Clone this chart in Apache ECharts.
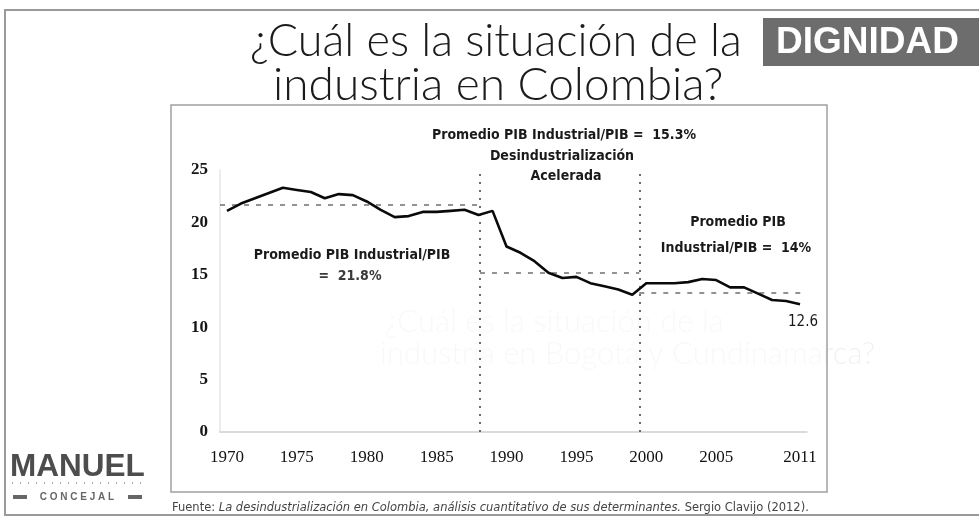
<!DOCTYPE html>
<html>
<head>
<meta charset="utf-8">
<script src="https://cdn.jsdelivr.net/npm/echarts@6/dist/echarts.min.js"></script>
<style>
html,body{margin:0;padding:0;background:#fff;}
#c{width:979px;height:523px;}
</style>
</head>
<body>
<div id="c"></div>
<script>
// ---- data ----
const years = [1970,1971,1972,1973,1974,1975,1976,1977,1978,1979,
               1980,1981,1982,1983,1984,1985,1986,1987,1988,1989,
               1990,1991,1992,1993,1994,1995,1996,1997,1998,1999,
               2000,2001,2002,2003,2004,2005,2006,2007,2008,2009,
               2010,2011];
const pibIndustrialShare = [21.1,21.8,22.3,22.8,23.3,23.1,22.9,22.3,22.7,22.6,
                            22.0,21.2,20.5,20.6,21.0,21.0,21.1,21.2,20.7,21.1,
                            17.7,17.1,16.3,15.2,14.7,14.8,14.2,13.9,13.6,13.1,
                            14.2,14.2,14.2,14.3,14.6,14.5,13.8,13.8,13.2,12.6,
                            12.5,12.2];
const xTickLabels = [1970,1975,1980,1985,1990,1995,2000,2005,2011];
const periodBreaks = [1988.1, 1999.5];
const periodEdges = [1969.5, 1988.1, 1999.5, 2011.5];
const periodAvgLevels = [21.7, 15.2, 13.3];

// ---- build ----
const lineData = years.map((y, i) => [y, pibIndustrialShare[i]]);
const markData = [];
for (let i = 0; i < periodAvgLevels.length; i++) {
  markData.push([{coord: [periodEdges[i], periodAvgLevels[i]], lineStyle: {type: [5, 7], color: '#6f6f6f', width: 1.6}},
                 {coord: [periodEdges[i + 1], periodAvgLevels[i]]}]);
}
periodBreaks.forEach(b => {
  markData.push({xAxis: b, lineStyle: {type: [2, 6], color: '#4a4a4a', width: 1.6}});
});

const annFont = '"DejaVu Sans Condensed", "DejaVu Sans", sans-serif';
function ann(text, x, y, font, fill) {
  return {
    type: 'text', z: 10,
    style: {text: text, x: x, y: y, align: 'center', verticalAlign: 'middle',
            font: font || ('bold 14px ' + annFont), fill: fill || '#1a1a1a'}
  };
}

const chart = echarts.init(document.getElementById('c'), null, {renderer: 'canvas'});
chart.setOption({
  animation: false,
  backgroundColor: '#ffffff',
  grid: {left: 220, right: 172, top: 170, bottom: 91},
  xAxis: {
    type: 'value', min: 1969.5, max: 2011.5,
    axisLine: {show: true, lineStyle: {color: '#cfcfcf', width: 1.5}},
    axisTick: {show: false},
    splitLine: {show: false},
    axisLabel: {
      customValues: xTickLabels,
      formatter: v => String(v),
      margin: 17,
      fontFamily: '"Liberation Serif", serif', fontSize: 17, color: '#111'
    }
  },
  yAxis: {
    type: 'value', min: 0, max: 25, interval: 5,
    axisLine: {show: true, lineStyle: {color: '#e6e6e6', width: 1.5}},
    axisTick: {show: false},
    splitLine: {show: false},
    axisLabel: {margin: 12, fontFamily: '"Liberation Serif", serif', fontSize: 17, color: '#151515', fontWeight: 'bold'}
  },
  series: [{
    type: 'line',
    data: lineData,
    symbol: 'none',
    lineStyle: {color: '#0a0a0a', width: 2.6},
    z: 5,
    markLine: {
      silent: true, symbol: ['none', 'none'], label: {show: false},
      data: markData
    }
  }],
  graphic: [
    // slide frame
    {type: 'rect', z: -10, shape: {x: 5, y: 10, width: 990, height: 505},
     style: {fill: '#fff', stroke: '#9a9a9a', lineWidth: 2}},
    // ghost show-through text
    {type: 'text', z: -9, style: {text: '¿Cuál es la situación de la', x: 385, y: 322, verticalAlign: 'middle',
      font: '300 31px Lato, sans-serif', fill: 'rgba(0,0,0,0.06)'}},
    {type: 'text', z: -9, style: {text: 'industria en Bogotá y Cundinamarca?', x: 380, y: 354, verticalAlign: 'middle',
      font: '300 31px Lato, sans-serif', fill: 'rgba(0,0,0,0.06)'}},
    // chart box
    {type: 'rect', z: -5, shape: {x: 171, y: 105, width: 656, height: 387},
     style: {fill: 'rgba(255,255,255,0.5)', stroke: '#a0a0a0', lineWidth: 1.5}},
    // title
    {type: 'text', z: 10, style: {text: '¿Cuál es la situación de la', x: 250, y: 41, verticalAlign: 'middle',
      font: '300 45px Lato, sans-serif', fill: '#1b1b1b'}},
    {type: 'text', z: 10, style: {text: 'industria en Colombia?', x: 273, y: 85, verticalAlign: 'middle',
      font: '300 46px Lato, sans-serif', fill: '#1b1b1b'}},
    // DIGNIDAD tag
    {type: 'rect', z: 9, shape: {x: 763, y: 18, width: 216, height: 48}, style: {fill: '#6d6d6d'}},
    {type: 'text', z: 10, style: {text: 'DIGNIDAD', x: 776, y: 43, verticalAlign: 'middle',
      font: 'bold 37px "Liberation Sans", Arial, sans-serif', fill: '#ffffff'}},
    // annotations
    ann('Promedio PIB Industrial/PIB =  15.3%', 564, 135),
    ann('Desindustrialización', 562, 156),
    ann('Acelerada', 566, 176),
    ann('Promedio PIB', 738, 222),
    ann('Industrial/PIB =  14%', 736, 248),
    ann('Promedio PIB Industrial/PIB', 352, 255),
    ann('=  21.8%', 350, 276, 'bold 14px ' + annFont, '#3a3a3a'),
    ann('12.6', 803, 322, '15px ' + annFont, '#1a1a1a'),
    // logo
    {type: 'text', z: 10, style: {text: 'MANUEL', x: 10, y: 467, verticalAlign: 'middle',
      font: 'bold 31.5px "Liberation Sans", Arial, sans-serif', fill: '#4d4d4d'}},
    {type: 'line', z: 10, shape: {x1: 12, y1: 483, x2: 145, y2: 483},
     style: {stroke: '#8a8a8a', lineWidth: 1.5, lineDash: [1, 7]}},
    {type: 'rect', z: 10, shape: {x: 13, y: 495, width: 14, height: 4}, style: {fill: '#666'}},
    {type: 'text', z: 10, style: {text: 'C O N C E J A L', x: 77, y: 497, align: 'center', verticalAlign: 'middle',
      font: 'bold 10px "Liberation Sans", Arial, sans-serif', fill: '#666'}},
    {type: 'rect', z: 10, shape: {x: 128, y: 495, width: 14, height: 4}, style: {fill: '#666'}},
    // source
    {type: 'text', z: 10, style: {
      x: 172, y: 508, verticalAlign: 'middle',
      text: '{n|Fuente: }{i|La desindustrialización en Colombia, análisis cuantitativo de sus determinantes.}{n| Sergio Clavijo (2012).}',
      rich: {
        n: {font: '11.5px "DejaVu Sans", sans-serif', fill: '#444'},
        i: {font: 'italic 11.5px "DejaVu Sans", sans-serif', fill: '#444'}
      }
    }}
  ]
});
</script>
</body>
</html>
